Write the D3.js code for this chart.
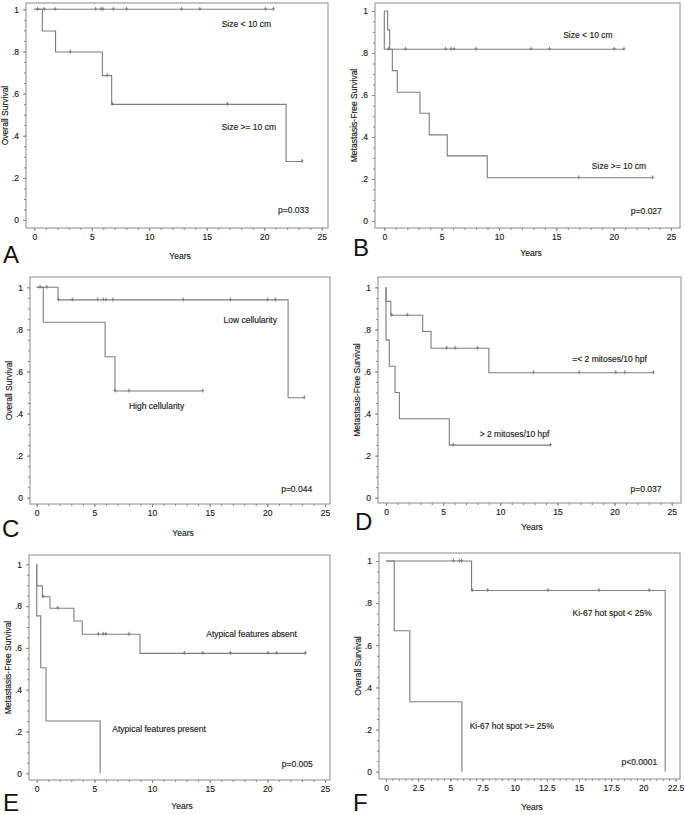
<!DOCTYPE html>
<html>
<head>
<meta charset="utf-8">
<script src="https://cdn.jsdelivr.net/npm/d3@7"></script>
<style>
body { margin: 0; background: #fff; }
svg { display: block; }
text { font-family: "Liberation Sans", Arial, sans-serif; fill: #111; stroke: #333; stroke-width: 0.15px; }
</style>
</head>
<body>
<svg width="685" height="815"></svg>
<script>
// step points are [years, survival], censor marks are years
var aSmallSteps = [[0,1],[20.8,1]];
var aSmallCensor = [0.29,0.87,1.8,5.34,5.8,5.97,6.87,8.03,12.8,14.4,20.1,20.8];
var aLargeSteps = [[0,1],[0.7,0.897],[1.85,0.797],[5.92,0.685],[6.73,0.549],[21.9,0.278],[23.3,0.278]];
var aLargeCensor = [3.13,6.35,6.78,16.8,23.3];

var bSmallSteps = [[0,1],[0.29,0.91],[0.47,0.818],[20.9,0.818]];
var bSmallCensor = [1.86,5.35,5.82,6.08,8.0,12.8,14.4,20.05,20.9];
var bLargeSteps = [[0,1],[0,0.818],[0.7,0.716],[1.13,0.613],[3.11,0.513],[3.92,0.41],[5.49,0.31],[8.98,0.206],[23.4,0.206]];
var bLargeCensor = [0.35,16.95,23.4];

var cLowSteps = [[0,1],[1.85,0.94],[21.8,0.475],[23.2,0.475]];
var cLowCensor = [0.29,0.87,1.9,3.09,5.29,5.78,6.01,6.59,12.7,16.8,20.03,20.7,23.2];
var cHighSteps = [[0,1],[0.57,0.834],[5.93,0.67],[6.79,0.507],[14.4,0.507]];
var cHighCensor = [6.8,8.0,14.4];

var dLowSteps = [[0,1],[0,0.933],[0.42,0.867],[3.21,0.79],[3.94,0.71],[9.0,0.594],[23.4,0.594]];
var dLowCensor = [0.5,1.86,5.31,6.04,8.02,12.9,16.9,20.1,20.9,23.4];
var dHighSteps = [[0,1],[0,0.75],[0.29,0.625],[0.79,0.5],[1.17,0.375],[5.54,0.25],[14.4,0.25]];
var dHighCensor = [5.89,14.4];

var eAbsentSteps = [[0,1],[0,0.897],[0.49,0.845],[1.15,0.79],[3.23,0.729],[3.95,0.665],[8.96,0.574],[23.3,0.574]];
var eAbsentCensor = [0.55,1.82,5.34,5.77,6.0,8.0,12.8,14.4,16.8,20.05,20.8,23.3];
var ePresentSteps = [[0,1],[0,0.753],[0.35,0.505],[0.81,0.25],[5.5,0]];
var ePresentCensor = [];

var fLowSteps = [[0,1],[6.65,0.86],[21.7,0]];
var fLowCensor = [5.24,5.7,5.87,6.7,7.9,12.6,16.55,20.45];
var fHighSteps = [[0,1],[0.64,0.669],[1.85,0.332],[5.9,0]];
var fHighCensor = [];

var yTicks = [0,0.2,0.4,0.6,0.8,1];
var yTickLabels = ["0",".2",".4",".6",".8","1"];
var xTicks25 = [0,5,10,15,20,25];
var xTicksF = [0,2.5,5,7.5,10,12.5,15,17.5,20,22.5];

var panels = [
  {letter:"A", box:[26,3,328,228], xr:[34.3,321.7], yr:[220,9.3], xmax:25, ticks:xTicks25, minor:1,
   ytitle:"Overall Survival", years:[180,259], letterAt:[3,263],
   curves:[[aSmallSteps,aSmallCensor],[aLargeSteps,aLargeCensor]],
   labels:[["Size < 10 cm",16.3,0.914],["Size >= 10 cm",16.3,0.426],["p=0.033",21.2,0.031]]},
  {letter:"B", box:[375,3,680,228], xr:[384.3,671], yr:[221,11], xmax:25, ticks:xTicks25, minor:1,
   ytitle:"Metastasis-Free Survival", years:[531,255.5], letterAt:[353,256],
   curves:[[bSmallSteps,bSmallCensor],[bLargeSteps,bLargeCensor]],
   labels:[["Size < 10 cm",15.6,0.872],["Size >= 10 cm",18.1,0.247],["p=0.027",21.5,0.031]]},
  {letter:"C", box:[30,277,330,504], xr:[36.7,325], yr:[497.7,287.3], xmax:25, ticks:xTicks25, minor:1,
   ytitle:"Overall Survival", years:[183,536], letterAt:[2,537],
   curves:[[cLowSteps,cLowCensor],[cHighSteps,cHighCensor]],
   labels:[["Low cellularity",16.2,0.828],["High cellularity",8.0,0.42],["p=0.044",21.2,0.025]]},
  {letter:"D", box:[378,277,681,503], xr:[386,671.7], yr:[497.7,287.3], xmax:25, ticks:xTicks25, minor:1,
   ytitle:"Metastasis-Free Survival", years:[532,530], letterAt:[355,530],
   curves:[[dLowSteps,dLowCensor],[dHighSteps,dHighCensor]],
   labels:[["=< 2 mitoses/10 hpf",16.3,0.646],["> 2 mitoses/10 hpf",8.2,0.29],["p=0.037",21.4,0.025]]},
  {letter:"E", box:[29,555,330,780], xr:[36.7,325], yr:[773.3,564.3], xmax:25, ticks:xTicks25, minor:1,
   ytitle:"Metastasis-Free Survival", years:[182,809], letterAt:[3,811],
   curves:[[eAbsentSteps,eAbsentCensor],[ePresentSteps,ePresentCensor]],
   labels:[["Atypical features absent",14.7,0.65],["Atypical features present",6.56,0.199],["p=0.005",21.25,0.031]]},
  {letter:"F", box:[379,553,680,779], xr:[386,675.5], yr:[771.7,561], xmax:22.5, ticks:xTicksF, minor:0.5,
   ytitle:"Overall Survival", years:[532,810], letterAt:[353,811],
   curves:[[fLowSteps,fLowCensor],[fHighSteps,fHighCensor]],
   labels:[["Ki-67 hot spot < 25%",14.5,0.738],["Ki-67 hot spot >= 25%",6.5,0.202],["p<0.0001",18.3,0.034]]}
];

var svg = d3.select("svg");
var lineColor = "#7d7d7d";
var axisColor = "#8a8a8a";

function survAt(steps, t){
  var s = steps[0][1];
  steps.forEach(function(p){ if (p[0] <= t) s = p[1]; });
  return s;
}

panels.forEach(function(p){
  var x = d3.scaleLinear().domain([0,p.xmax]).range(p.xr);
  var y = d3.scaleLinear().domain([0,1]).range(p.yr);
  var b = p.box;
  var g = svg.append("g");

  // frame
  g.append("rect")
    .attr("x", b[0]).attr("y", b[1])
    .attr("width", b[2]-b[0]).attr("height", b[3]-b[1])
    .attr("fill", "none").attr("stroke", axisColor).attr("stroke-width", 1);

  // y axis, major + minor
  g.append("g").attr("transform","translate("+b[0]+",0)")
    .call(d3.axisLeft(y).tickValues(yTicks).tickSize(3).tickPadding(4)
      .tickFormat(function(d,i){ return yTickLabels[i]; }))
    .call(function(a){
      a.select(".domain").remove();
      a.selectAll("line").attr("stroke", axisColor);
      a.selectAll("text").style("font-size","8.5px").attr("fill","#111");
    });
  g.append("g").attr("transform","translate("+b[0]+",0)")
    .call(d3.axisLeft(y).tickValues(d3.range(0,1.0001,0.05)).tickSize(2).tickFormat(""))
    .call(function(a){
      a.select(".domain").remove();
      a.selectAll("line").attr("stroke", axisColor);
    });

  // x axis, major + minor
  g.append("g").attr("transform","translate(0,"+b[3]+")")
    .call(d3.axisBottom(x).tickValues(p.ticks).tickSize(3).tickPadding(3)
      .tickFormat(function(d){ return String(d); }))
    .call(function(a){
      a.select(".domain").remove();
      a.selectAll("line").attr("stroke", axisColor);
      a.selectAll("text").style("font-size","8.5px").attr("fill","#111");
    });
  g.append("g").attr("transform","translate(0,"+b[3]+")")
    .call(d3.axisBottom(x).tickValues(d3.range(0,p.xmax+0.001,p.minor)).tickSize(2).tickFormat(""))
    .call(function(a){
      a.select(".domain").remove();
      a.selectAll("line").attr("stroke", axisColor);
    });

  // curves
  var line = d3.line()
    .x(function(d){ return x(d[0]); })
    .y(function(d){ return y(d[1]); })
    .curve(d3.curveStepAfter);

  p.curves.forEach(function(c){
    g.append("path").datum(c[0])
      .attr("d", line)
      .attr("fill","none").attr("stroke", lineColor).attr("stroke-width", 1.1);

    g.selectAll(null).data(c[1]).enter().append("path")
      .attr("d", function(t){
        var cx = x(t), cy = y(survAt(c[0], t));
        return "M"+cx+","+(cy-2.5)+"V"+(cy+1.5)+"M"+(cx-1.5)+","+(cy-0.5)+"H"+(cx+1.5);
      })
      .attr("fill","none").attr("stroke", lineColor).attr("stroke-width", 0.9);
  });

  // annotations
  p.labels.forEach(function(l){
    g.append("text").attr("x", x(l[1])).attr("y", y(l[2]))
      .style("font-size","8.5px").text(l[0]);
  });

  // axis titles
  g.append("text").attr("x", p.years[0]).attr("y", p.years[1])
    .attr("text-anchor","middle").style("font-size","8.5px").text("Years");
  var cy = (b[1]+b[3])/2;
  g.append("text")
    .attr("transform","translate("+(b[0]-18)+","+cy+") rotate(-90)")
    .attr("text-anchor","middle").style("font-size","8.5px").text(p.ytitle);

  // panel letter
  g.append("text").attr("x", p.letterAt[0]).attr("y", p.letterAt[1])
    .style("font-size","24px").style("stroke-width","0").text(p.letter);
});
</script>
</body>
</html>
